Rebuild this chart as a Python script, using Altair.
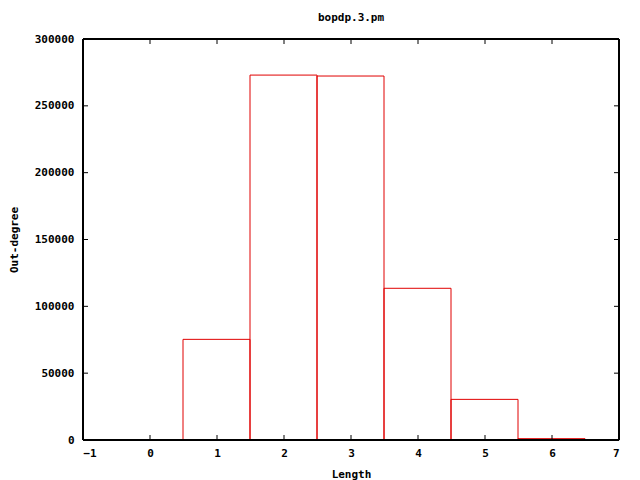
import altair as alt
import pandas as pd

lengths = [1, 2, 3, 4, 5, 6]
outdeg = [75300, 273000, 272300, 113500, 30400, 1000]
x_ticks = [-1, 0, 1, 2, 3, 4, 5, 6, 7]
y_ticks = [0, 50000, 100000, 150000, 200000, 250000, 300000]

W, H = 536, 401
FONT = "DejaVu Sans Mono"

df = pd.DataFrame({"Length": lengths, "Out": outdeg})
xt = pd.DataFrame({"t": x_ticks})
yt = pd.DataFrame({"t": y_ticks})

xscale = alt.Scale(domain=[-1, 7], nice=False, zero=False)
yscale = alt.Scale(domain=[0, 300000], nice=False)

axis_style = dict(
    domain=False, ticks=False, grid=False, format="d",
    labelFont=FONT, labelFontSize=11, labelFontWeight="bold", labelColor="black",
    titleFont=FONT, titleFontSize=11, titleFontWeight="bold", titleColor="black",
)

bars = alt.Chart(df).transform_calculate(
    x0="datum.Length - 0.5", x1="datum.Length + 0.5"
).mark_rect(fill="white", fillOpacity=0, stroke="#e00000", strokeWidth=1,
            xOffset=-0.5, x2Offset=-0.5).encode(
    x=alt.X("x0:Q", scale=xscale, title="Length",
            axis=alt.Axis(values=x_ticks, labelPadding=7, titlePadding=10, **axis_style)),
    x2="x1:Q",
    y=alt.Y("Out:Q", scale=yscale, title="Out-degree",
            axis=alt.Axis(values=y_ticks, labelPadding=9, titlePadding=15, **axis_style)),
    y2=alt.datum(0),
)

tick_style = dict(color="black", strokeWidth=1)
bottom = alt.Chart(xt).mark_rule(**tick_style).encode(
    x=alt.X("t:Q", scale=xscale), y=alt.value(H), y2=alt.value(H - 5))
top = alt.Chart(xt).mark_rule(**tick_style).encode(
    x=alt.X("t:Q", scale=xscale), y=alt.value(0), y2=alt.value(5))
left = alt.Chart(yt).mark_rule(**tick_style).encode(
    y=alt.Y("t:Q", scale=yscale), x=alt.value(0), x2=alt.value(5))
right = alt.Chart(yt).mark_rule(**tick_style).encode(
    y=alt.Y("t:Q", scale=yscale), x=alt.value(W), x2=alt.value(W - 5))
frame = alt.Chart(xt).mark_rect(fill="white", fillOpacity=0, stroke="black", strokeWidth=1).encode(
    x=alt.value(0), x2=alt.value(W), y=alt.value(0), y2=alt.value(H))

chart = alt.layer(bars, bottom, top, left, right, frame).properties(
    width=W, height=H,
    title=alt.TitleParams("bopdp.3.pm", font=FONT, fontSize=11, fontWeight="bold",
                          color="black", offset=10),
    autosize=alt.AutoSizeParams(type="none"),
    padding={"left": 75, "top": 31, "right": 13, "bottom": 40},
).configure_view(stroke=None).configure(background="white")

chart.save("out.html", embed_options={"renderer": "svg", "actions": False})
